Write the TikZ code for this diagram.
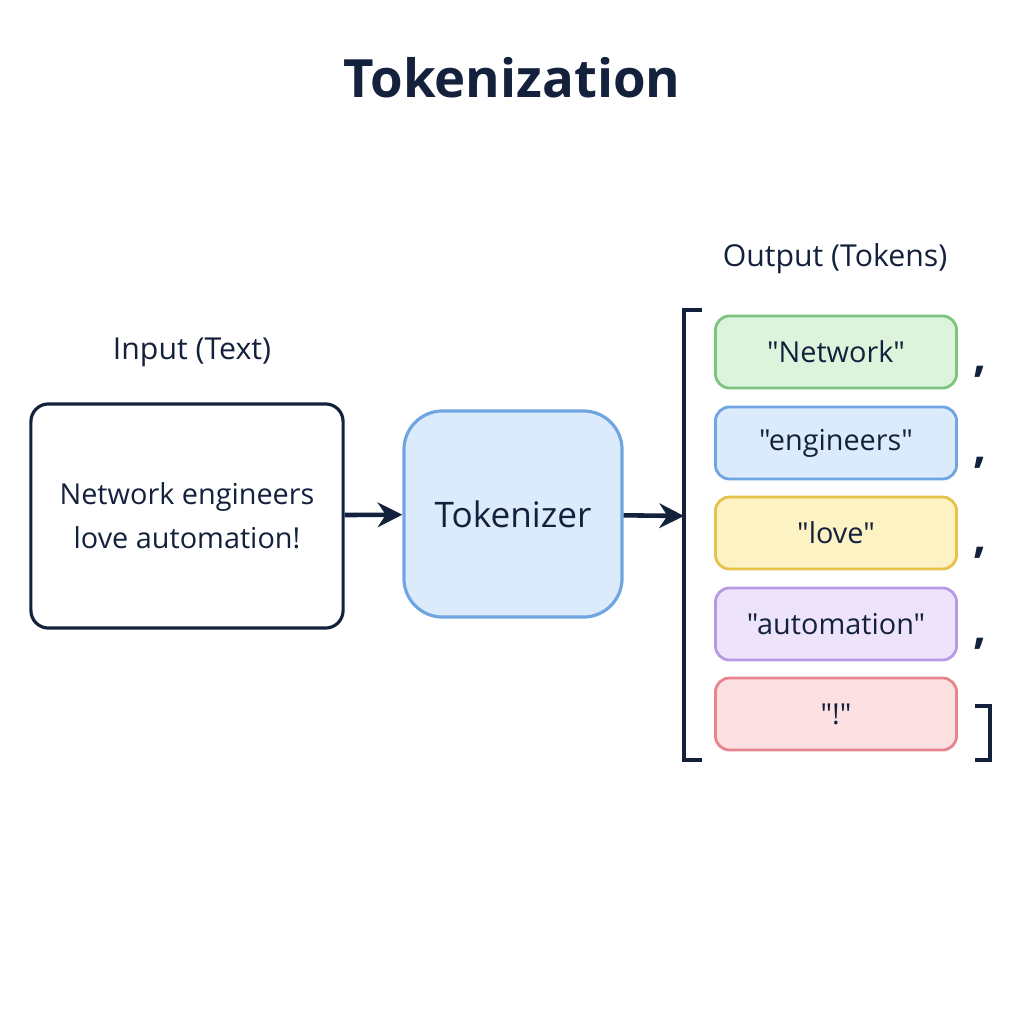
\documentclass[tikz,border=0pt]{standalone}
\usepackage{fontspec}
\setmainfont{Open Sans}[Ligatures=TeXOff]
\usetikzlibrary{positioning,arrows.meta}
\definecolor{ink}{HTML}{14213D}
\definecolor{gline}{HTML}{7CC47F}\definecolor{gfill}{HTML}{DDF3DC}
\definecolor{bline}{HTML}{6FA5E0}\definecolor{bfill}{HTML}{DCEBFC}
\definecolor{yline}{HTML}{E6C24A}\definecolor{yfill}{HTML}{FCF2C4}
\definecolor{vline}{HTML}{B69AE6}\definecolor{vfill}{HTML}{EDE4FC}
\definecolor{rline}{HTML}{E8848C}\definecolor{rfill}{HTML}{FDE0E2}
\newcommand{\q}[1]{"#1"}
\tikzset{
  box/.style={draw=ink,line width=0.9pt,rounded corners=5pt,minimum width=3.12cm,minimum height=2.24cm,align=center,font=\fontsize{8.2}{12.5}\selectfont,text=ink},
  tok/.style={line width=0.8pt,rounded corners=4pt,minimum width=2.41cm,minimum height=0.72cm,font=\fontsize{8.2}{10}\selectfont,text=ink},
  lbl/.style={font=\fontsize{8.6}{11}\selectfont,text=ink},
  arr/.style={-{Stealth[length=7pt,width=7pt]},line width=1.3pt,draw=ink},
}
\begin{document}
\begin{tikzpicture}[x=0.01cm,y=-0.01cm]
		\useasboundingbox (0,0) rectangle (1024,1024);
		\node[font=\bfseries\fontsize{15}{18}\selectfont,text=ink] (title) at (512,78) {Tokenization};
		\node[lbl] (inlbl) at (192,352) {Input (Text)};
		\node[lbl] (outlbl) at (835,259) {Output (Tokens)};
		\node[box,fill=white] (input) at (187,516) {Network engineers\\love automation!};
		\node[box,draw=bline,fill=bfill,minimum width=2.18cm,minimum height=2.06cm,rounded corners=11pt,font=\fontsize{10}{13}\selectfont] (tokenizer) at (513,514) {Tokenizer};
		\coordinate (brk) at (684,516);
		\draw[arr] (input) -- (tokenizer);
		\draw[arr] (tokenizer) -- (brk);
		% brackets
		\draw[ink,line width=1.2pt] (702,310) -- (684,310) -- (684,760) -- (702,760);
		\draw[ink,line width=1.2pt] (975,706) -- (990,706) -- (990,760) -- (975,760);
		% tokens
		\foreach \y/\t/\c [count=\i] in {352/Network/g, 443/engineers/b, 533/love/y, 624/automation/v, 714/!/r}
		{
			\node[tok,draw=\c line,fill=\c fill] (t\i) at (836,\y) {\q{\t}};
		}
		\foreach \i in {1,...,4}
			\node[font=\bfseries\fontsize{13}{13}\selectfont,text=ink,right=1pt of t\i.south east,anchor=south west] (c\i) {,};
\end{tikzpicture}
\end{document}
